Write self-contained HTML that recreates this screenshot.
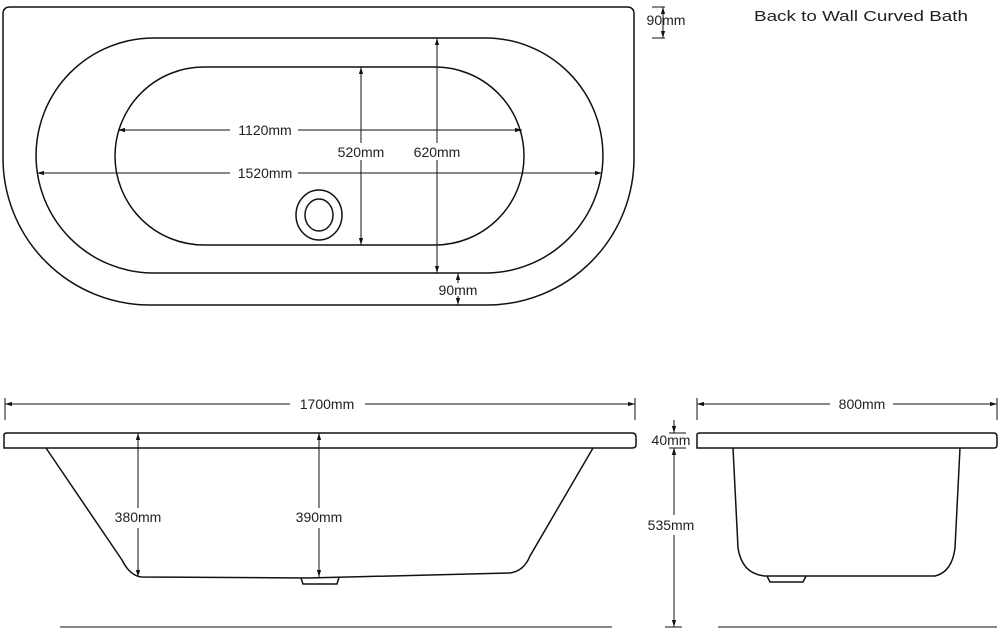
<!DOCTYPE html>
<html><head><style>
body{margin:0;background:#fff;}
svg{display:block;font-family:"Liberation Sans",sans-serif;}
text{font-size:14px;fill:#222;}
</style></head><body>
<svg width="1000" height="632" viewBox="0 0 1000 632" xmlns="http://www.w3.org/2000/svg">
<defs>
<marker id="a" viewBox="0 0 10 10" refX="10" refY="5" markerWidth="7" markerHeight="7" orient="auto-start-reverse"><path d="M0,2 L10,5 L0,8 z" fill="#111"/></marker>
</defs>
<g fill="none" stroke="#111" stroke-width="1.5">
<path d="M3,14 Q3,7 10,7 H627 Q634,7 634,14 V158 A147,147 0 0 1 487,305 H150 A147,147 0 0 1 3,158 Z"/>
<path d="M153.5,38 H485.5 A117.5,117.5 0 0 1 485.5,273 H153.5 A117.5,117.5 0 0 1 153.5,38 Z"/>
<path d="M204,67 H435 A89,89 0 0 1 435,245 H204 A89,89 0 0 1 204,67 Z"/>
<ellipse cx="319" cy="215" rx="23" ry="25"/>
<ellipse cx="319" cy="215" rx="14" ry="16"/>
<path d="M4,435 Q4,433 7,433 H632 Q636,433 636,437 V445 Q636,448 632,448 H4 Z"/>
<path d="M46,448 L122,560 Q130,576 142,577 L308,578 L510,573 Q524,571 530,556 L593,448"/>
<path d="M301,578 L303,584 L337,584 L339,577"/>
<path d="M697,435 Q697,433 700,433 H994 Q997,433 997,437 V445 Q997,448 994,448 H697 Z"/>
<path d="M733,448 L738,548 Q742,574 765,576 L935,576 Q952,572 955,548 L960,448"/>
<path d="M767,576 L770,582 L803,582 L806,576"/>
</g>
<g stroke="#111" stroke-width="1" fill="none">
<line x1="118" y1="130" x2="230" y2="130" marker-start="url(#a)"/><line x1="298" y1="130" x2="522" y2="130" marker-end="url(#a)"/>
<line x1="37" y1="173" x2="230" y2="173" marker-start="url(#a)"/><line x1="298" y1="173" x2="602" y2="173" marker-end="url(#a)"/>
<line x1="361" y1="67" x2="361" y2="143" marker-start="url(#a)"/><line x1="361" y1="160" x2="361" y2="245" marker-end="url(#a)"/>
<line x1="437" y1="38" x2="437" y2="143" marker-start="url(#a)"/><line x1="437" y1="160" x2="437" y2="273" marker-end="url(#a)"/>
<line x1="458" y1="273" x2="458" y2="283" marker-start="url(#a)"/><line x1="458" y1="296" x2="458" y2="305" marker-end="url(#a)"/>
<line x1="652" y1="7" x2="665" y2="7"/><line x1="652" y1="38" x2="665" y2="38"/>
<line x1="663" y1="24" x2="663" y2="7" marker-end="url(#a)"/><line x1="663" y1="24" x2="663" y2="38" marker-end="url(#a)"/>
<line x1="5" y1="398" x2="5" y2="420"/><line x1="635" y1="398" x2="635" y2="420"/>
<line x1="5" y1="404" x2="290" y2="404" marker-start="url(#a)"/><line x1="365" y1="404" x2="635" y2="404" marker-end="url(#a)"/>
<line x1="697" y1="398" x2="697" y2="420"/><line x1="997" y1="398" x2="997" y2="420"/>
<line x1="697" y1="404" x2="830" y2="404" marker-start="url(#a)"/><line x1="893" y1="404" x2="997" y2="404" marker-end="url(#a)"/>
<line x1="138" y1="433" x2="138" y2="508" marker-start="url(#a)"/><line x1="138" y1="528" x2="138" y2="577" marker-end="url(#a)"/>
<line x1="319" y1="433" x2="319" y2="508" marker-start="url(#a)"/><line x1="319" y1="528" x2="319" y2="577" marker-end="url(#a)"/>
<line x1="674" y1="420" x2="674" y2="433" marker-end="url(#a)"/><line x1="674" y1="461" x2="674" y2="448" marker-end="url(#a)"/>
<line x1="669" y1="433" x2="686" y2="433"/><line x1="669" y1="448" x2="686" y2="448"/>
<line x1="674" y1="448" x2="674" y2="515" marker-start="url(#a)"/><line x1="674" y1="535" x2="674" y2="627" marker-end="url(#a)"/>
<line x1="60" y1="627" x2="612" y2="627"/><line x1="665" y1="627" x2="682" y2="627"/><line x1="718" y1="627" x2="997" y2="627"/>
</g>
<g text-anchor="middle">
<text x="265" y="135">1120mm</text>
<text x="265" y="178">1520mm</text>
<text x="361" y="157">520mm</text>
<text x="437" y="157">620mm</text>
<text x="458" y="295">90mm</text>
<text x="666" y="25">90mm</text>
<text x="327" y="409">1700mm</text>
<text x="862" y="409">800mm</text>
<text x="138" y="522">380mm</text>
<text x="319" y="522">390mm</text>
<text x="671" y="445">40mm</text>
<text x="671" y="530">535mm</text>
</g>
<text x="754" y="21" style="font-size:15px" textLength="214" lengthAdjust="spacingAndGlyphs">Back to Wall Curved Bath</text>
</svg>
</body></html>
